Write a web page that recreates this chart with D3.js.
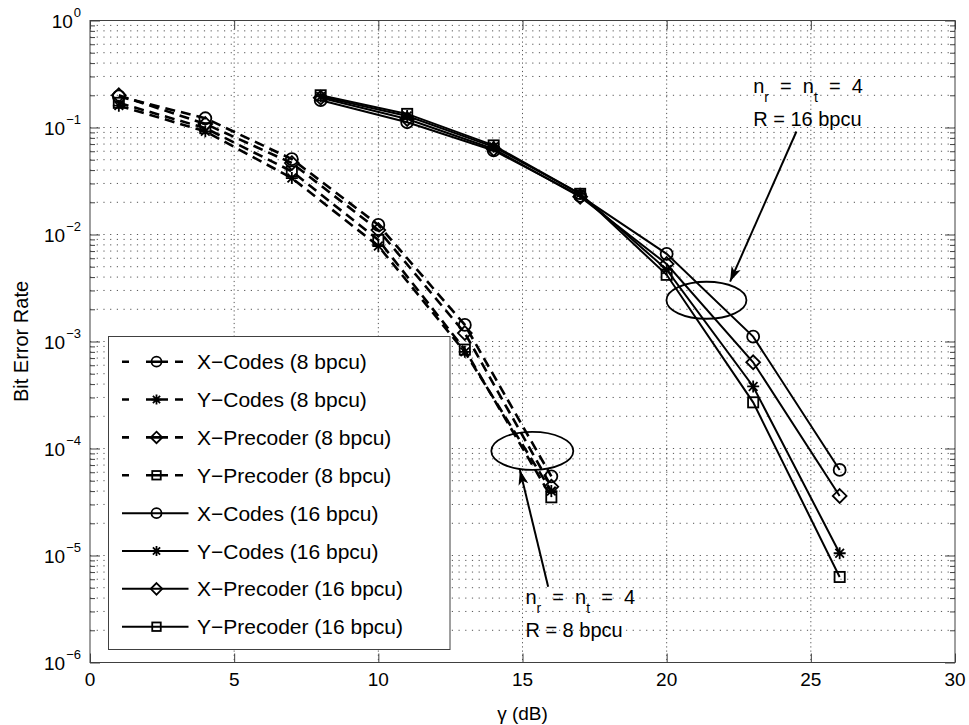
<!DOCTYPE html>
<html>
<head>
<meta charset="utf-8">
<script src="https://cdn.jsdelivr.net/npm/d3@7"></script>
<style>
  body { margin: 0; background: #fff; }
  text { font-family: "Liberation Sans", Arial, Helvetica, sans-serif; fill: #000; }
</style>
</head>
<body>
<div id="my_chart"></div>
<script>
// SNR points (dB)
const snr8 = [1, 4, 7, 10, 13, 16];
const snr16 = [8, 11, 14, 17, 20, 23, 26];

// 8 bpcu curves
const xCodes8 = [0.195, 0.122, 0.0507, 0.0123, 0.00143, 5.5e-5];
const yCodes8 = [0.16, 0.092, 0.0337, 0.0078, 0.0008, 4.0e-5];
const xPrecoder8 = [0.2, 0.108, 0.0465, 0.011, 0.0012, 4.4e-5];
const yPrecoder8 = [0.17, 0.0986, 0.0389, 0.0089, 0.00084, 3.5e-5];

// 16 bpcu curves
const xCodes16 = [0.18, 0.112, 0.061, 0.023, 0.0066, 0.00111, 6.3e-5];
const yCodes16 = [0.195, 0.128, 0.066, 0.024, 0.0047, 0.00038, 1.05e-5];
const xPrecoder16 = [0.19, 0.12, 0.063, 0.0225, 0.0053, 0.00064, 3.6e-5];
const yPrecoder16 = [0.2, 0.134, 0.068, 0.024, 0.0042, 0.00027, 6.3e-6];

const xTicks = [0, 5, 10, 15, 20, 25, 30];
const yDecades = [0, -1, -2, -3, -4, -5, -6];
const legendLabels = ["X\u2212Codes (8 bpcu)", "Y\u2212Codes (8 bpcu)", "X\u2212Precoder (8 bpcu)", "Y\u2212Precoder (8 bpcu)",
  "X\u2212Codes (16 bpcu)", "Y\u2212Codes (16 bpcu)", "X\u2212Precoder (16 bpcu)", "Y\u2212Precoder (16 bpcu)"];

const series = [
  {x: snr8, y: xCodes8, marker: "circle", dashed: true},
  {x: snr8, y: yCodes8, marker: "star", dashed: true},
  {x: snr8, y: xPrecoder8, marker: "diamond", dashed: true},
  {x: snr8, y: yPrecoder8, marker: "square", dashed: true},
  {x: snr16, y: xCodes16, marker: "circle", dashed: false},
  {x: snr16, y: yCodes16, marker: "star", dashed: false},
  {x: snr16, y: xPrecoder16, marker: "diamond", dashed: false},
  {x: snr16, y: yPrecoder16, marker: "square", dashed: false}
];

const margin = {top: 20.5, right: 14, bottom: 62.5, left: 90};
const W = 969, H = 725;
const width = W - margin.left - margin.right;
const height = H - margin.top - margin.bottom;

const svg = d3.select("#my_chart").append("svg")
  .attr("width", W).attr("height", H);
const g = svg.append("g")
  .attr("transform", "translate(" + margin.left + "," + margin.top + ")");

const x = d3.scaleLinear().domain([0, 30]).range([0, width]);
const y = d3.scaleLog().domain([1e-6, 1]).range([height, 0]);

const majors = yDecades.map(k => Math.pow(10, k));
let minors = [];
yDecades.slice(0, -1).forEach(k => {
  for (let m = 2; m <= 9; m++) minors.push(m * Math.pow(10, k - 1));
});

// grid
g.append("g").selectAll("line").data(majors.concat(minors)).enter().append("line")
  .attr("x1", 0).attr("x2", width)
  .attr("y1", d => y(d)).attr("y2", d => y(d))
  .attr("stroke", "#555").attr("stroke-width", 1).attr("stroke-dasharray", "1.2,5.5");
g.append("g").selectAll("line").data(xTicks.slice(1, -1)).enter().append("line")
  .attr("x1", d => x(d)).attr("x2", d => x(d))
  .attr("y1", 0).attr("y2", height)
  .attr("stroke", "#555").attr("stroke-width", 1).attr("stroke-dasharray", "1.2,3");

// ticks (inward, on all four sides)
const tickCol = "#404040";
function styleAxis(sel) {
  sel.select(".domain").remove();
  sel.selectAll(".tick line").attr("stroke", tickCol);
  sel.selectAll(".tick text").remove();
}
g.append("g").call(d3.axisLeft(y).tickValues(majors).tickSize(-10)).call(styleAxis);
g.append("g").call(d3.axisLeft(y).tickValues(minors).tickSize(-5)).call(styleAxis);
g.append("g").attr("transform", "translate(" + width + ",0)")
  .call(d3.axisRight(y).tickValues(majors).tickSize(-10)).call(styleAxis);
g.append("g").attr("transform", "translate(" + width + ",0)")
  .call(d3.axisRight(y).tickValues(minors).tickSize(-5)).call(styleAxis);
g.append("g").attr("transform", "translate(0," + height + ")")
  .call(d3.axisBottom(x).tickValues(xTicks).tickSize(-9)).call(styleAxis);
g.append("g").call(d3.axisTop(x).tickValues(xTicks).tickSize(-9)).call(styleAxis);

// box
g.append("rect").attr("width", width).attr("height", height)
  .attr("fill", "none").attr("stroke", tickCol).attr("stroke-width", 1);

// tick labels
g.append("g").selectAll("text").data(xTicks).enter().append("text")
  .attr("x", d => x(d)).attr("y", height + 23.5)
  .attr("text-anchor", "middle").style("font-size", "19px")
  .text(d => d);

const yl = g.append("g").selectAll("text").data(yDecades).enter().append("text")
  .attr("x", -9).attr("y", d => y(Math.pow(10, d)) + 7)
  .attr("text-anchor", "end").style("font-size", "19px");
yl.append("tspan").text("10");
yl.append("tspan").attr("dx", 1).attr("dy", -11).style("font-size", "13px")
  .text(d => d === 0 ? "0" : "\u2212" + (-d));

// axis titles
svg.append("text")
  .attr("x", margin.left + width / 2).attr("y", 720)
  .attr("text-anchor", "middle").style("font-size", "19px")
  .text("\u03b3 (dB)");
svg.append("text")
  .attr("transform", "translate(28," + (margin.top + height / 2) + ") rotate(-90)")
  .attr("text-anchor", "middle").style("font-size", "20px")
  .text("Bit Error Rate");

// markers
function drawMarker(sel, type, s) {
  if (type === "circle") {
    sel.append("circle").attr("r", s);
  } else if (type === "square") {
    sel.append("rect").attr("x", -s * 0.85).attr("y", -s * 0.85)
      .attr("width", s * 1.7).attr("height", s * 1.7);
  } else if (type === "diamond") {
    const d = s * 1.15;
    sel.append("path").attr("d", `M0,${-d}L${d},0L0,${d}L${-d},0Z`);
  } else {
    const a = s * 0.72;
    sel.append("path").attr("d", `M${-s},0H${s}M0,${-s}V${s}M${-a},${-a}L${a},${a}M${-a},${a}L${a},${-a}`);
  }
}

const line = d3.line().x(d => x(d[0])).y(d => y(d[1]));

series.forEach(s => {
  const pts = s.x.map((v, i) => [v, s.y[i]]);
  const sg = g.append("g");
  sg.append("path").datum(pts)
    .attr("d", line)
    .attr("fill", "none").attr("stroke", "#000")
    .attr("stroke-width", s.dashed ? 2.6 : 2)
    .attr("stroke-dasharray", s.dashed ? "10,6" : null);
  pts.forEach(p => {
    const m = sg.append("g")
      .attr("transform", "translate(" + x(p[0]) + "," + y(p[1]) + ")")
      .attr("fill", "none").attr("stroke", "#000").attr("stroke-width", 1.8);
    drawMarker(m, s.marker, 6);
  });
});

// annotations
svg.append("defs").append("marker")
  .attr("id", "arrowhead").attr("markerUnits", "userSpaceOnUse")
  .attr("markerWidth", 20).attr("markerHeight", 20)
  .attr("refX", 0).attr("refY", 0).attr("orient", "auto")
  .attr("viewBox", "-16 -8 20 16")
  .append("path").attr("d", "M0,0L-15,-5L-11,0L-15,5Z").attr("fill", "#000");

const ellipses = [
  {cx: 21.38, cy: 0.00243, rx: 40, ry: 18.5},
  {cx: 15.34, cy: 9.5e-5, rx: 41, ry: 19}
];
const arrows = [
  {x1: 24.5, y1: 0.0918, x2: 22.2, y2: 0.00363},
  {x1: 15.89, y1: 5.1e-6, x2: 14.91, y2: 6.3e-5}
];
const notes = [
  {x: 23.0, y: 0.21, rate: "R = 16 bpcu"},
  {x: 15.1, y: 3.5e-6, rate: "R = 8 bpcu"}
];

g.selectAll(".ell").data(ellipses).enter().append("ellipse")
  .attr("cx", d => x(d.cx)).attr("cy", d => y(d.cy))
  .attr("rx", d => d.rx).attr("ry", d => d.ry)
  .attr("fill", "none").attr("stroke", "#000").attr("stroke-width", 1.8);

g.selectAll(".arr").data(arrows).enter().append("line")
  .attr("x1", d => x(d.x1)).attr("y1", d => y(d.y1))
  .attr("x2", d => x(d.x2)).attr("y2", d => y(d.y2))
  .attr("stroke", "#000").attr("stroke-width", 2)
  .attr("marker-end", "url(#arrowhead)");

notes.forEach(n => {
  const t = g.append("text")
    .attr("x", x(n.x)).attr("y", y(n.y))
    .style("font-size", "20px").style("white-space", "pre");
  t.append("tspan").text("n");
  t.append("tspan").attr("dy", 9).style("font-size", "14px").text("r");
  t.append("tspan").attr("dy", -9).text("  =  n");
  t.append("tspan").attr("dy", 9).style("font-size", "14px").text("t");
  t.append("tspan").attr("dy", -9).text("  =  4");
  g.append("text")
    .attr("x", x(n.x)).attr("y", y(n.y) + 33)
    .style("font-size", "20px")
    .text(n.rate);
});

// legend
const lg = svg.append("g");
lg.append("rect")
  .attr("x", 108.5).attr("y", 336.5).attr("width", 341.5).attr("height", 313)
  .attr("fill", "#fff").attr("stroke", tickCol).attr("stroke-width", 1);

series.forEach((s, i) => {
  const cy = 361.7 + i * 37.86;
  lg.append("line")
    .attr("x1", 122).attr("x2", 188.5).attr("y1", cy).attr("y2", cy)
    .attr("stroke", "#000").attr("stroke-width", s.dashed ? 2.6 : 2)
    .attr("stroke-dasharray", s.dashed ? "7,17,22,7,8,100" : null);
  const m = lg.append("g").attr("transform", "translate(156.5," + cy + ")")
    .attr("fill", "none").attr("stroke", "#000").attr("stroke-width", 1.8);
  drawMarker(m, s.marker, 5);
  lg.append("text")
    .attr("x", 197).attr("y", cy + 7.5)
    .style("font-size", "21px")
    .text(legendLabels[i]);
});
</script>
</body>
</html>
